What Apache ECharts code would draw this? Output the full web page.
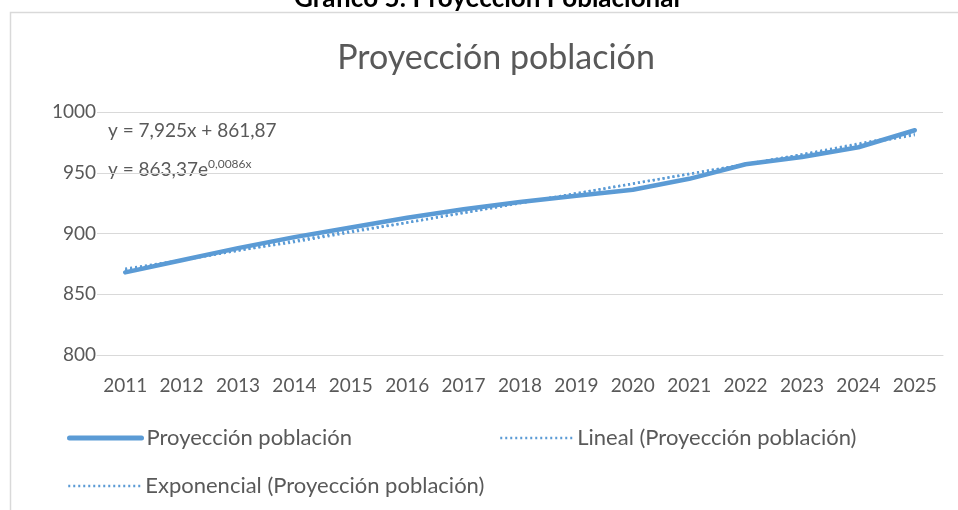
<!DOCTYPE html>
<html>
<head>
<meta charset="utf-8">
<script src="https://cdn.jsdelivr.net/npm/echarts@6/dist/echarts.min.js"></script>
<style>
  html, body { margin: 0; padding: 0; background: #fff; }
  #chart { width: 958px; height: 510px; }
</style>
</head>
<body>
<div id="chart"></div>
<script>
// datos
var years = ['2011','2012','2013','2014','2015','2016','2017','2018','2019','2020','2021','2022','2023','2024','2025'];
var poblacion = [868, 878, 888, 897, 905, 913, 920, 926, 931, 936, 945, 957, 963, 971, 985];
var lineal = [870, 878, 886, 894, 902, 909, 917, 925, 933, 941, 949, 957, 965, 973, 981];
var exponencial = [871, 878, 886, 893, 901, 909, 917, 925, 933, 941, 949, 957, 965, 974, 982];
var yTicks = [800, 850, 900, 950, 1000];

var nombre = 'Proyección población';
var nombreLin = 'Lineal (Proyección población)';
var nombreExp = 'Exponencial (Proyección población)';

var gris = '#595959';
var azul = '#5B9BD5';
var fuente = 'Lato';

var chart = echarts.init(document.getElementById('chart'));

function leyenda(left, top, name, width, dash) {
    return {
        left: left,
        top: top,
        data: [name],
        itemWidth: 72,
        itemHeight: 14,
        itemStyle: { opacity: 0 },
        lineStyle: { width: width, type: dash, cap: width > 3 ? 'round' : 'butt' },
        textStyle: { fontFamily: fuente, fontSize: 22, color: gris }
    };
}

var option = {
    backgroundColor: '#fff',
    animation: false,
    title: {
        text: nombre,
        left: 491,
        top: 36,
        textAlign: 'center',
        textStyle: { fontFamily: fuente, fontSize: 34, fontWeight: 'normal', color: gris }
    },
    graphic: [
        {
            type: 'rect',
            shape: { x: 10.5, y: 12.5, width: 1000, height: 600 },
            style: { fill: 'none', stroke: '#D9D9D9', lineWidth: 1.5 },
            z: -10
        },
        {
            type: 'text',
            x: 487, y: -14,
            style: {
                text: 'Gráfico 5: Proyección Poblacional',
                fill: '#000', align: 'center',
                font: 'bold 26px Lato'
            }
        },
        {
            type: 'text',
            x: 108, y: 121,
            style: { text: 'y = 7,925x + 861,87', fill: gris, font: '19px Lato' }
        },
        {
            type: 'text',
            x: 108, y: 158,
            style: {
                text: '{a|y = 863,37e}{b|0,0086x}',
                fill: gris,
                rich: {
                    a: { fontFamily: fuente, fontSize: 19, color: gris, lineHeight: 23 },
                    b: { fontFamily: fuente, fontSize: 12, color: gris, verticalAlign: 'top', padding: [0, 0, 4, 0] }
                }
            }
        }
    ],
    legend: [
        leyenda(62, 422, nombre, 5, 'solid'),
        leyenda(494, 422, nombreLin, 2.5, [2, 3]),
        leyenda(62, 470, nombreExp, 2.5, [2, 3])
    ],
    grid: { left: 97, right: 15, top: 112, bottom: 155, containLabel: false },
    xAxis: {
        type: 'category',
        data: years,
        boundaryGap: true,
        axisLine: { show: true, lineStyle: { color: '#D9D9D9', width: 1 } },
        axisTick: { show: false },
        axisLabel: { fontFamily: fuente, fontSize: 19, color: gris, margin: 21, interval: 0 }
    },
    yAxis: {
        type: 'value',
        min: yTicks[0],
        max: yTicks[yTicks.length - 1],
        interval: 50,
        axisLine: { show: false },
        axisTick: { show: false },
        axisLabel: {
            fontFamily: fuente, fontSize: 19, color: gris, margin: 1,
            formatter: function (v) { return String(v); }
        },
        splitLine: { lineStyle: { color: '#D9D9D9', width: 1 } }
    },
    series: [
        {
            name: nombreLin,
            type: 'line',
            data: lineal,
            symbol: 'none',
            lineStyle: { color: azul, width: 2.5, type: [2, 3] },
            itemStyle: { color: azul },
            z: 2
        },
        {
            name: nombreExp,
            type: 'line',
            data: exponencial,
            symbol: 'none',
            lineStyle: { color: azul, width: 2.5, type: [2, 3] },
            itemStyle: { color: azul },
            z: 2
        },
        {
            name: nombre,
            type: 'line',
            data: poblacion,
            symbol: 'none',
            lineStyle: { color: azul, width: 4.5, cap: 'round', join: 'round' },
            itemStyle: { color: azul },
            z: 3
        }
    ]
};

chart.setOption(option);
</script>
</body>
</html>
